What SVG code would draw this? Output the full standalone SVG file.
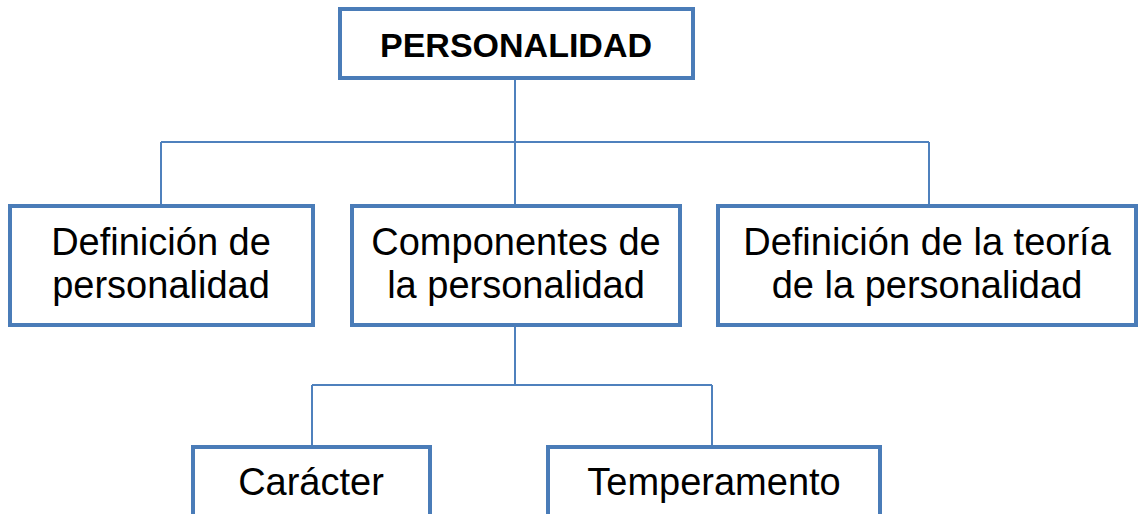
<svg xmlns="http://www.w3.org/2000/svg" width="1139" height="514" viewBox="0 0 1139 514">
<style>
.box{fill:#fff;stroke:#4a7cb8;stroke-width:4}
.con{fill:none;stroke:#4f81bd;stroke-width:2}
text{font-family:"Liberation Sans",Arial,sans-serif;fill:#000;text-anchor:middle}
.t{font-size:38px}
.b{font-size:34px;font-weight:bold}
</style>
<rect width="1139" height="514" fill="#fff"/>
<g id="connectors">
<path class="con" d="M515 78V142M161 142H929M161 142V206M515 142V206M929 142V206"/>
<path class="con" d="M515 325V385M312 385H712M312 385V447M712 385V447"/>
</g>
<g id="n-personalidad">
<rect class="box" x="340" y="9" width="353" height="69"/>
<text class="b" x="516" y="57">PERSONALIDAD</text>
</g>
<g id="n-definicion">
<rect class="box" x="10" y="206" width="303" height="119"/>
<text class="t" x="161" y="255">Definición de</text>
<text class="t" x="161" y="298">personalidad</text>
</g>
<g id="n-componentes">
<rect class="box" x="352" y="206" width="328" height="119"/>
<text class="t" x="516" y="255">Componentes de</text>
<text class="t" x="516" y="298">la personalidad</text>
</g>
<g id="n-teoria">
<rect class="box" x="718" y="206" width="418" height="119"/>
<text class="t" x="927" y="255">Definición de la teoría</text>
<text class="t" x="927" y="298">de la personalidad</text>
</g>
<g id="n-caracter">
<rect class="box" x="193" y="447" width="237" height="80"/>
<text class="t" x="311" y="495">Carácter</text>
</g>
<g id="n-temperamento">
<rect class="box" x="548" y="447" width="332" height="80"/>
<text class="t" x="714" y="495">Temperamento</text>
</g>
</svg>
